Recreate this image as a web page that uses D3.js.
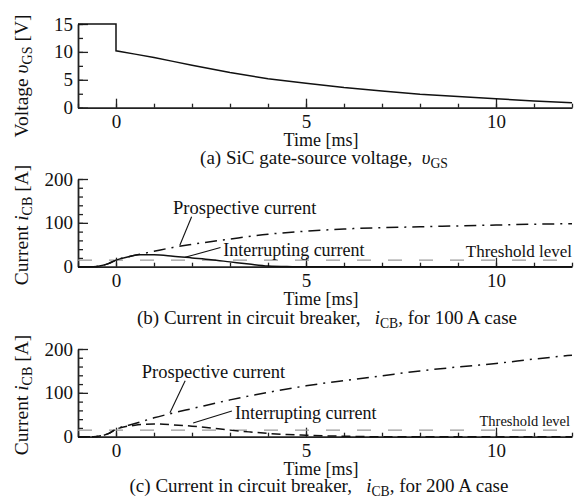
<!DOCTYPE html>
<html><head><meta charset="utf-8">
<script src="https://cdn.jsdelivr.net/npm/d3@7"></script>
<style>
body{margin:0;background:#fff;}
text{font-family:"Liberation Serif","Times New Roman",serif;fill:#111;}
</style></head>
<body><svg id="c" width="582" height="500"></svg>
<script>
// ---- data ----
const timeDomain = [-1, 12];
const xMajorTicks = [0, 5, 10];
const xMinorTicks = [-1,0,1,2,3,4,5,6,7,8,9,10,11,12];

const vgsTime  = [-1, 0, 0, 0.5, 1, 1.5, 2, 3, 4, 5, 6, 7, 8, 9, 10, 11, 12];
const vgsValue = [15, 15, 10.2, 9.6, 9.0, 8.3, 7.6, 6.3, 5.2, 4.4, 3.6, 3.0, 2.4, 2.0, 1.6, 1.2, 0.9];
const vgsMajorTicks = [0, 5, 10, 15];
const vgsMinorTicks = [0, 2.5, 5, 7.5, 10, 12.5, 15];

const probTime  = [-1, -0.6, -0.4, -0.2, 0, 0.5, 1, 1.5, 2, 3, 4, 5, 6, 7, 8, 9, 10, 11, 12];
const prob100   = [0, 0, 2, 7, 15, 26, 35, 44, 51, 63, 74, 81, 86, 89, 91, 93, 95, 97, 98];
const prob200   = [0, 0, 2, 7, 17, 30, 43, 54, 64, 84, 101, 116, 128, 139, 150, 159, 167, 177, 186];

const inter100Time = [-1, -0.6, -0.4, -0.2, 0, 0.3, 0.6, 1, 1.5, 2, 2.5, 3, 3.5, 4, 4.5, 5, 12];
const inter100     = [0, 0, 2, 7, 15, 22, 27, 27, 24, 20, 16, 11, 6, 1.5, 0.3, 0, 0];
const inter200Time = [-1, -0.6, -0.4, -0.2, 0, 0.5, 1, 1.5, 2, 2.5, 3, 3.5, 4, 4.5, 5, 5.5, 6, 6.5, 7, 12];
const inter200     = [0, 0, 2, 7, 17, 26, 29, 27, 24, 20, 15, 11, 7.5, 5, 3.5, 2, 1, 0.3, 0, 0];

const thresholdLevel = 15;
const currentMajorTicks = [0, 100, 200];
const currentMinorTicks = [0, 20, 40, 60, 80, 100, 120, 140, 160, 180, 200];

// ---- drawing ----
const svg = d3.select("#c");
const FS = 18, TICK_FS = 19, CAP_FS = 19, TITLE_FS = 19.5;
const x = d3.scaleLinear().domain(timeDomain).range([78, 572]);

function panel(yDomain, yRange, yMajor, yMinor) {
  const y = d3.scaleLinear().domain(yDomain).range(yRange);
  const g = svg.append("g");
  g.append("g").attr("transform", `translate(0,${yRange[0]})`)
    .call(d3.axisBottom(x).tickValues(xMinorTicks).tickSize(-4).tickSizeOuter(0).tickFormat(""))
    .call(s => s.select(".domain").remove());
  g.append("g").attr("transform", `translate(${x.range()[0]},0)`)
    .call(d3.axisLeft(y).tickValues(yMinor).tickSize(-5).tickSizeOuter(0).tickFormat(""))
    .call(s => s.select(".domain").remove());
  const xa = g.append("g").attr("transform", `translate(0,${yRange[0]})`)
    .call(d3.axisBottom(x).tickValues(xMajorTicks).tickSize(-9).tickSizeOuter(0).tickPadding(7).tickFormat(d3.format("d")));
  const ya = g.append("g").attr("transform", `translate(${x.range()[0]},0)`)
    .call(d3.axisLeft(y).tickValues(yMajor).tickSize(-10).tickSizeOuter(0).tickPadding(5).tickFormat(d3.format("d")));
  [xa, ya].forEach(a => { a.selectAll("text").attr("font-size", TICK_FS).attr("font-family", null).style("fill", "#111"); });
  g.selectAll(".tick line").attr("stroke", "#222").attr("stroke-width", 1.3);
  g.selectAll(".domain").attr("stroke", "#222").attr("stroke-width", 1.8);
  return {g, y};
}

function lineOf(ts, vs, y, curve) {
  return d3.line().x(d => x(d[0])).y(d => y(d[1])).curve(curve)(ts.map((t, i) => [t, vs[i]]));
}

function fillParts(t, parts, size) {
  parts.forEach(p => {
    const ts = t.append("tspan").text(p.t);
    if (p.i) ts.attr("font-style", "italic");
    if (p.sub) ts.attr("font-size", size * 0.72).attr("dy", size * 0.22);
    if (p.up) ts.attr("dy", -size * 0.22);
  });
}

function addText(g, px, py, parts, size, anchor) {
  const t = g.append("text").attr("x", px).attr("y", py).attr("font-size", size)
    .attr("text-anchor", anchor || "start").style("white-space", "pre");
  fillParts(t, parts, size);
  return t;
}

function yTitle(cy, parts) {
  const t = svg.append("text").attr("transform", `translate(28,${cy}) rotate(-90)`)
    .attr("text-anchor", "middle").attr("font-size", TITLE_FS).style("white-space", "pre");
  fillParts(t, parts, TITLE_FS);
}

// Panel (a)
const A = panel([0, 15], [107.7, 24], vgsMajorTicks, vgsMinorTicks);
A.g.append("path").attr("d", lineOf(vgsTime, vgsValue, A.y, d3.curveLinear))
  .attr("fill", "none").attr("stroke", "#111").attr("stroke-width", 1.5);
yTitle(76, [{t:"Voltage "},{t:"υ", i:true},{t:"GS", sub:true},{t:" [V]", up:true}]);
addText(svg, 321, 146, [{t:"Time [ms]"}], FS, "middle");
addText(svg, 324, 164, [{t:"(a) SiC gate-source voltage,  "},{t:"υ", i:true},{t:"GS", sub:true}], CAP_FS, "middle");

function currentPanel(yRange, prob, interT, inter, interDash, labels, thrSize) {
  const P = panel([0, 200], yRange, currentMajorTicks, currentMinorTicks);
  const y = P.y;
  P.g.append("line").attr("x1", x(timeDomain[0])).attr("x2", x(timeDomain[1]))
    .attr("y1", y(thresholdLevel)).attr("y2", y(thresholdLevel))
    .attr("stroke", "#999").attr("stroke-width", 1.3).attr("stroke-dasharray", "14,17");
  P.g.append("path").attr("d", lineOf(probTime, prob, y, d3.curveMonotoneX))
    .attr("fill", "none").attr("stroke", "#111").attr("stroke-width", 1.5).attr("stroke-dasharray", "12,6,2,6");
  P.g.append("path").attr("d", lineOf(interT, inter, y, d3.curveMonotoneX))
    .attr("fill", "none").attr("stroke", "#111").attr("stroke-width", 1.5).attr("stroke-dasharray", interDash);
  labels.leaders.forEach(l => {
    P.g.append("line").attr("x1", x(l[0])).attr("y1", y(l[1])).attr("x2", x(l[2])).attr("y2", y(l[3]))
      .attr("stroke", "#111").attr("stroke-width", 1.1);
  });
  addText(P.g, x(labels.prob[0]), y(labels.prob[1]), [{t:"Prospective current"}], 18.5);
  addText(P.g, x(labels.inter[0]), y(labels.inter[1]), [{t:"Interrupting current"}], 18);
  addText(P.g, x(labels.thr[0]), y(labels.thr[1]), [{t:"Threshold level"}], thrSize, "end");
  return P;
}

currentPanel([266.7, 179], prob100, inter100Time, inter100, null, {
  prob: [1.5, 121], inter: [2.82, 24.4], thr: [12, 22.8],
  leaders: [[1.99, 114, 1.68, 49], [2.75, 44, 1.82, 21.4]]
}, 17);
yTitle(225, [{t:"Current "},{t:"i", i:true},{t:"CB", sub:true},{t:" [A]", up:true}]);
addText(svg, 321, 305, [{t:"Time [ms]"}], FS, "middle");
addText(svg, 327, 324, [{t:"(b) Current in circuit breaker,   "},{t:"i", i:true},{t:"CB", sub:true},{t:", for 100 A case", up:true}], CAP_FS, "middle");

currentPanel([436.7, 349], prob200, inter200Time, inter200, "9,5", {
  prob: [0.68, 134.5], inter: [3.13, 39.7], thr: [11.95, 23.3],
  leaders: [[1.82, 127.7, 1.42, 54.7], [3.05, 58.6, 2.03, 31.2]]
}, 14.5);
yTitle(395, [{t:"Current "},{t:"i", i:true},{t:"CB", sub:true},{t:" [A]", up:true}]);
addText(svg, 321, 475, [{t:"Time [ms]"}], FS, "middle");
addText(svg, 319, 492, [{t:"(c) Current in circuit breaker,   "},{t:"i", i:true},{t:"CB", sub:true},{t:", for 200 A case", up:true}], CAP_FS, "middle");
</script></body></html>
